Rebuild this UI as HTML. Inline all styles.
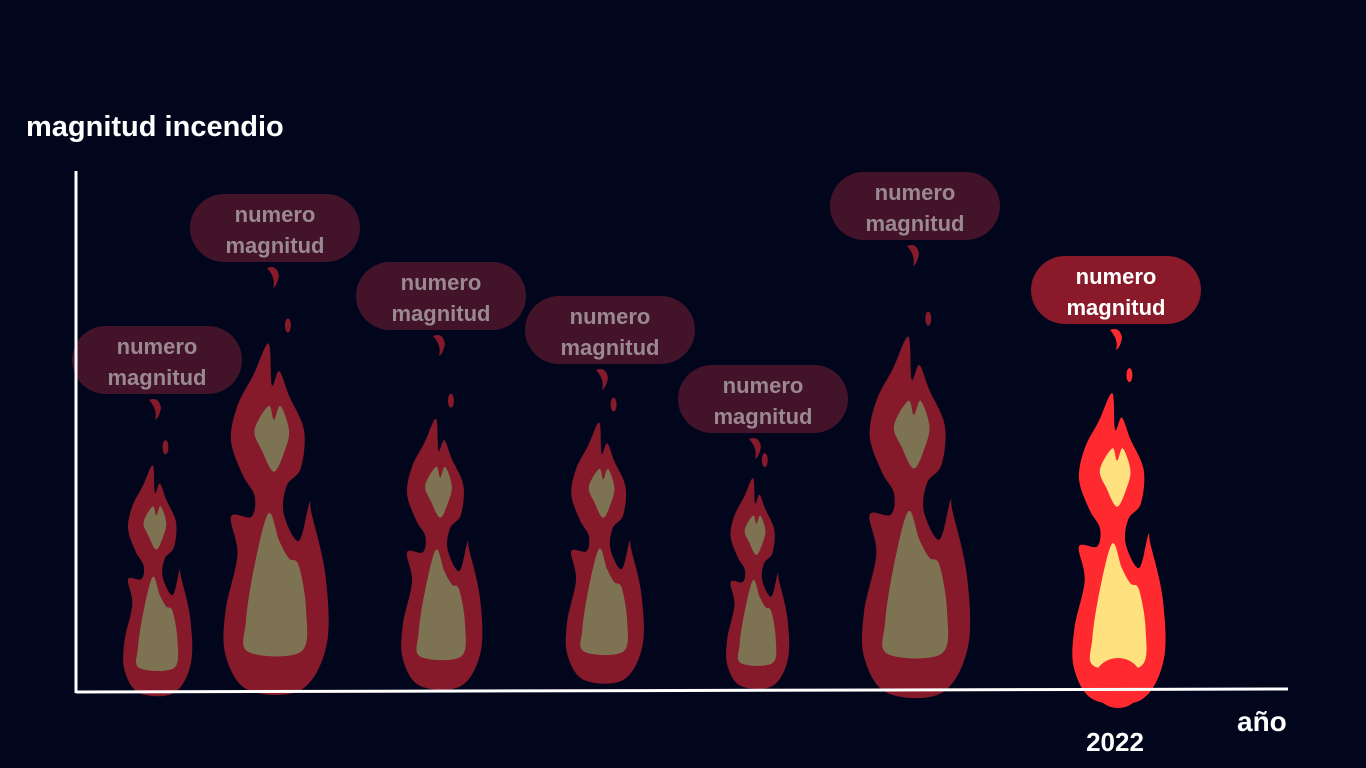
<!DOCTYPE html>
<html><head><meta charset="utf-8"><style>
html,body{margin:0;padding:0;background:#01061c;}
body{width:1366px;height:768px;overflow:hidden;position:relative;font-family:"Liberation Sans",sans-serif;}
.t{position:absolute;color:#fff;font-weight:bold;}
</style></head><body>
<div class="t" style="left:26px;top:111px;font-size:29px;">magnitud incendio</div>
<div class="t" style="left:1237px;top:706px;font-size:28px;">año</div>
<svg id="c" width="1366" height="768" style="position:absolute;left:0;top:0"></svg>
<script>
const categories=["a1","a2","a3","a4","a5","a6","2022"];
const magnitudes=[23,35,27,26,21,36,31];
const highlighted=[false,false,false,false,false,false,true];
const xLabels=["","","","","","","2022"];
const centers=[157,275,441,604,757,915,1118];
const bubbleX=[157,275,441,610,763,915,1116];
const bubbleTop=[326,194,262,296,365,172,256];
const baseY=[693,690,686,680,686,693,700];
function yScale(v){return v*9.9;}
const NS="http://www.w3.org/2000/svg";
const svg=document.getElementById('c');
function mk(t,a){const e=document.createElementNS(NS,t);for(const k in a)e.setAttribute(k,a[k]);svg.appendChild(e);return e;}
const outer=[[-0.06,0],[-0.2,0.09],[-0.35,0.18],[-0.41,0.28],[-0.3,0.38],[-0.19,0.44],[-0.22,0.5],[-0.41,0.5],[-0.35,0.61],[-0.46,0.77],[-0.46,0.9],[-0.25,1],[0.24,1],[0.48,0.87],[0.47,0.67],[0.34,0.49],[0.32,0.46],[0.22,0.57],[0.08,0.49],[0.11,0.41],[0.24,0.36],[0.27,0.25],[0.13,0.15],[0.04,0.08],[-0.03,0.12]];
const in1=[[-0.06,0.18],[-0.19,0.25],[-0.12,0.31],[-0.01,0.37],[0.09,0.31],[0.13,0.25],[0.05,0.18],[-0.01,0.22]];
const in2=[[-0.06,0.49],[-0.19,0.64],[-0.27,0.8],[-0.25,0.89],[0.24,0.89],[0.29,0.77],[0.22,0.64],[0.13,0.62],[0.04,0.57]];
function path(pts,cx,by,h,w){
 const P=pts.map(p=>[cx+p[0]*w,by-h+p[1]*h]);const n=P.length;let d=`M${P[0][0]},${P[0][1]}`;
 for(let i=0;i<n;i++){const p0=P[(i-1+n)%n],p1=P[i],p2=P[(i+1)%n],p3=P[(i+2)%n];
  d+=`C${p1[0]+(p2[0]-p0[0])/6},${p1[1]+(p2[1]-p0[1])/6} ${p2[0]-(p3[0]-p1[0])/6},${p2[1]-(p3[1]-p1[1])/6} ${p2[0]},${p2[1]}`;}
 return d+'Z';}
categories.forEach((c,i)=>{
 const h=yScale(magnitudes[i]),w=h*0.31,cx=centers[i],by=baseY[i],hl=highlighted[i];
 const oc=hl?'#ff2a2f':'#86192a',ic=hl?'#ffe27f':'#7d7352';
 let e=mk('path',{d:path(outer,cx,by,h,w),fill:oc});
 
 mk('path',{d:path(in1,cx,by,h,w),fill:ic});
 mk('path',{d:path(in2,cx,by,h,w),fill:ic});
 const top=by-h;
 const bt=bubbleTop[i];
 mk('ellipse',{cx:cx+w*0.12,cy:top-18,rx:3,ry:7,fill:oc});
 mk('path',{d:`M${cx-8},${bt+74} q10,-4 12,8 q-2,10 -6,12 q3,-10 -6,-20Z`,fill:oc});
 if(hl){mk('circle',{cx:cx,cy:by-17,r:25,fill:oc});}
 const bcx=bubbleX[i],bx=bcx-85;
 const b=mk('rect',{x:bx,y:bt,width:170,height:68,rx:34,fill:hl?'#8a1a2a':'#43132a'});
 
 const tc=hl?'#ffffff':'#9a8a90';
 const t1=mk('text',{x:bcx,y:bt+28,'text-anchor':'middle','font-size':22,'font-weight':'bold',fill:tc,'font-family':'Liberation Sans'});t1.textContent='numero';
 const t2=mk('text',{x:bcx,y:bt+59,'text-anchor':'middle','font-size':22,'font-weight':'bold',fill:tc,'font-family':'Liberation Sans'});t2.textContent='magnitud';
 if(xLabels[i]){const t=mk('text',{x:cx-3,y:751,'text-anchor':'middle','font-size':26,'font-weight':'bold',fill:'#fff','font-family':'Liberation Sans'});t.textContent=xLabels[i];
 }
});
let ax=mk('line',{x1:76,y1:171,x2:76,y2:693,stroke:'#fff','stroke-width':3});

ax=mk('line',{x1:76,y1:692,x2:1288,y2:689,stroke:'#fff','stroke-width':3});

</script>
</body></html>
